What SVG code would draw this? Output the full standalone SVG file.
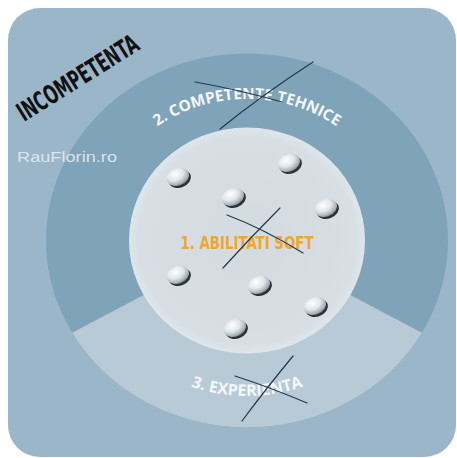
<svg xmlns="http://www.w3.org/2000/svg" xmlns:xlink="http://www.w3.org/1999/xlink" width="457" height="458" viewBox="0 0 457 458">
  <style>
    .strike { fill: none; stroke: #28384a; stroke-width: 1.2; stroke-linecap: round; }
    .arcLabel { font-family: "Open Sans", "DejaVu Sans", sans-serif; font-weight: bold; fill: #f4f7fa; }
  </style>
  <defs>
    <radialGradient id="ballG" cx="42%" cy="30%" r="70%">
      <stop offset="0" stop-color="#ffffff"/>
      <stop offset="0.5" stop-color="#e2e7ea"/>
      <stop offset="0.85" stop-color="#a9b3ba"/>
      <stop offset="1" stop-color="#7d878e"/>
    </radialGradient>
    <radialGradient id="innerG" cx="50%" cy="50%" r="50%">
      <stop offset="0" stop-color="#d3dbe1"/>
      <stop offset="0.92" stop-color="#d7dfe5"/>
      <stop offset="1" stop-color="#dfe6eb"/>
    </radialGradient>
    <g id="ball">
      <ellipse cx="1" cy="2.5" rx="11.5" ry="8.5" fill="#2c3236"/>
      <ellipse cx="0" cy="0" rx="11.5" ry="8.5" fill="url(#ballG)"/>
    </g>
    <path id="topArc" d="M 95 241 A 152 142 0 0 1 399 241"/>
    <path id="bottomArc" d="M 84 241 A 163 155 0 0 0 410 241"/>
  </defs>

  <rect x="0" y="0" width="457" height="458" fill="#ffffff"/>

  <g id="card">
    <rect x="8" y="8" width="448" height="449" rx="32" ry="32" fill="#9bb6c9"/>
  </g>

  <g id="ring-competente">
    <ellipse cx="247" cy="240.5" rx="201" ry="187" fill="#7fa3b9"/>
  </g>

  <g id="sector-experienta">
    <path d="M 247 240.5 L 421.9 332.7 A 201 187 0 0 1 72.1 332.7 Z" fill="#b8cad6"/>
  </g>

  <g id="core-abilitati">
    <ellipse cx="247" cy="240.5" rx="118" ry="113" fill="url(#innerG)"/>
  </g>

  <g id="balls">
    <use xlink:href="#ball" transform="translate(178,177) rotate(-20)"/>
    <use xlink:href="#ball" transform="translate(233,197) rotate(-20)"/>
    <use xlink:href="#ball" transform="translate(289,163) rotate(-20)"/>
    <use xlink:href="#ball" transform="translate(326,208) rotate(-20)"/>
    <use xlink:href="#ball" transform="translate(178,275) rotate(-20)"/>
    <use xlink:href="#ball" transform="translate(259,285) rotate(-20)"/>
    <use xlink:href="#ball" transform="translate(315,306) rotate(-20)"/>
    <use xlink:href="#ball" transform="translate(235,328) rotate(-20)"/>
  </g>

  <g id="label-incompetenta">
    <text transform="translate(24,122) rotate(-32)" font-family="'Liberation Sans Narrow', 'DejaVu Sans Condensed', sans-serif" font-weight="bold" font-size="26" fill="#111111" textLength="138" lengthAdjust="spacingAndGlyphs">INCOMPETENTA</text>
  </g>

  <g id="label-rauflorin">
    <text x="17" y="162" font-family="'Liberation Sans', Arial, sans-serif" font-size="14" fill="#e4ecf2" fill-opacity="0.9" textLength="100" lengthAdjust="spacingAndGlyphs">RauFlorin.ro</text>
  </g>

  <g id="label-competente">
    <text class="arcLabel" font-size="15.5"><textPath xlink:href="#topArc" startOffset="50%" text-anchor="middle">2. COMPETENTE TEHNICE</textPath></text>
  </g>

  <g id="label-abilitati">
    <text x="247" y="249" text-anchor="middle" font-family="'Liberation Sans Narrow', 'DejaVu Sans Condensed', sans-serif" font-weight="bold" font-size="17" fill="#f2a52a" textLength="133" lengthAdjust="spacingAndGlyphs">1. ABILITATI SOFT</text>
  </g>

  <g id="label-experienta">
    <text class="arcLabel" font-size="16"><textPath xlink:href="#bottomArc" startOffset="50%" text-anchor="middle">3. EXPERIENTA</textPath></text>
  </g>

  <g id="cross-marks">
    <path class="strike" d="M 195 82 Q 240 90 282 102"/>
    <path class="strike" d="M 313 62 Q 262 95 220 129"/>
    <path class="strike" d="M 227 215 Q 262 228 303 253"/>
    <path class="strike" d="M 280 208 Q 250 238 223 268"/>
    <path class="strike" d="M 235 376 Q 272 388 307 403"/>
    <path class="strike" d="M 293 356 Q 265 390 242 421"/>
  </g>
</svg>
